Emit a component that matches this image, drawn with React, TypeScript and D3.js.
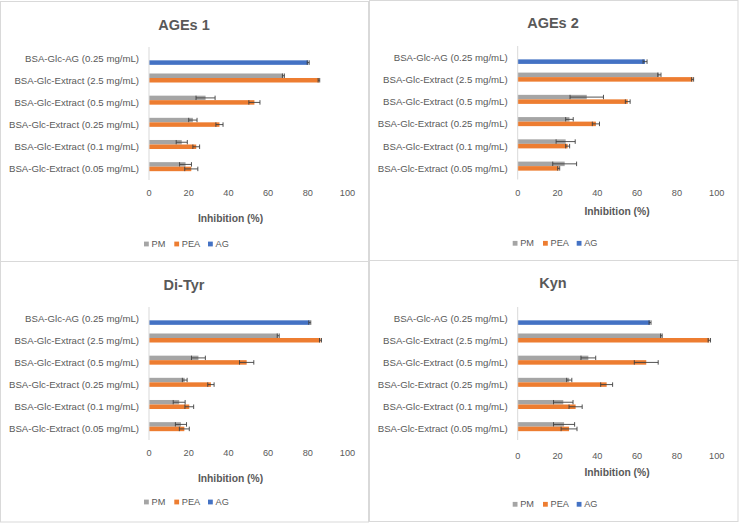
import React from "react";
import * as d3 from "d3";

const categories = [
  "BSA-Glc-AG (0.25 mg/mL)",
  "BSA-Glc-Extract (2.5 mg/mL)",
  "BSA-Glc-Extract (0.5 mg/mL)",
  "BSA-Glc-Extract (0.25 mg/mL)",
  "BSA-Glc-Extract (0.1 mg/mL)",
  "BSA-Glc-Extract (0.05 mg/mL)",
];
const seriesNames = ["PM", "PEA", "AG"];
const seriesColors = ["#A5A5A5", "#ED7D31", "#4472C4"];
const xTicks = [0, 20, 40, 60, 80, 100];
const panelTitles = ["AGEs 1", "AGEs 2", "Di-Tyr", "Kyn"];
const axisTitle = "Inhibition (%)";

// AGEs 1
const ages1PM = [null, 67.7, 28.5, 22.1, 16.5, 18.4];
const ages1PMErr = [0, 0.5, 4.8, 2.1, 2.8, 3.0];
const ages1PEA = [null, 85.6, 53.1, 35.5, 23.8, 21.3];
const ages1PEAErr = [0, 0.4, 2.8, 1.8, 1.7, 3.3];
const ages1AG = [80.2, null, null, null, null, null];
const ages1AGErr = [0.5, 0, 0, 0, 0, 0];

// AGEs 2
const ages2PM = [null, 71.2, 34.7, 26.0, 24.1, 23.6];
const ages2PMErr = [0, 0.8, 8.4, 1.9, 4.8, 6.0];
const ages2PEA = [null, 87.9, 55.3, 39.3, 25.1, 20.6];
const ages2PEAErr = [0, 0.5, 1.2, 1.8, 1.0, 0.5];
const ages2AG = [64.0, null, null, null, null, null];
const ages2AGErr = [1.0, 0, 0, 0, 0, 0];

// Di-Tyr
const dityrPM = [null, 65.1, 24.9, 18.0, 15.2, 16.1];
const dityrPMErr = [0, 0.5, 3.5, 1.2, 3.0, 2.8];
const dityrPEA = [null, 86.4, 49.2, 31.2, 20.3, 17.8];
const dityrPEAErr = [0, 0.5, 3.6, 1.6, 2.2, 2.5];
const dityrAG = [81.0, null, null, null, null, null];
const dityrAGErr = [0.5, 0, 0, 0, 0, 0];

// Kyn
const kynPM = [null, 72.2, 35.5, 25.9, 22.9, 23.3];
const kynPMErr = [0, 0.4, 3.7, 1.3, 4.9, 5.3];
const kynPEA = [null, 96.3, 64.6, 44.7, 29.1, 25.8];
const kynPEAErr = [0, 0.6, 6.0, 3.0, 3.3, 4.0];
const kynAG = [66.5, null, null, null, null, null];
const kynAGErr = [0.5, 0, 0, 0, 0, 0];

const panelData = [
  { values: [ages1PM, ages1PEA, ages1AG], errs: [ages1PMErr, ages1PEAErr, ages1AGErr] },
  { values: [ages2PM, ages2PEA, ages2AG], errs: [ages2PMErr, ages2PEAErr, ages2AGErr] },
  { values: [dityrPM, dityrPEA, dityrAG], errs: [dityrPMErr, dityrPEAErr, dityrAGErr] },
  { values: [kynPM, kynPEA, kynAG], errs: [kynPMErr, kynPEAErr, kynAGErr] },
];

const layouts = [
  { box: [0.5, 1.5, 368, 260], title: [184, 25], px: [149, 347.5], py: [47, 180], tickY: 193, axT: [230.5, 218], leg: [144, 244] },
  { box: [369.5, 0.5, 368.5, 260], title: [553, 23], px: [517.7, 716.7], py: [46, 179.5], tickY: 193, axT: [617, 211.7], leg: [512.7, 243.3] },
  { box: [0.5, 261.5, 368, 260.5], title: [184, 285], px: [149, 347.5], py: [307, 440], tickY: 453, axT: [230.5, 478], leg: [144, 502] },
  { box: [369.5, 260.5, 368.5, 261], title: [553, 283], px: [517.7, 716.7], py: [307, 440], tickY: 455.7, axT: [617, 472.7], leg: [512.7, 504.3] },
];

const FONT = "'Liberation Sans', Arial, sans-serif";
const TEXT = "#595959";

function Panel({ idx }: { idx: number }) {
  const L = layouts[idx];
  const D = panelData[idx];
  const x = d3.scaleLinear().domain([0, 100]).range(L.px);
  const y = d3.scaleBand<string>().domain(categories).range(L.py).paddingInner(0.39).paddingOuter(0.195);
  const inner = d3.scaleBand<string>().domain(seriesNames).range([0, y.bandwidth()]);
  const bh = inner.bandwidth();
  const legendOffsets = [0, 30.3, 64];
  return (
    <g>
      <rect x={L.box[0]} y={L.box[1]} width={L.box[2]} height={L.box[3]} fill="#fff" stroke="#D9D9D9" strokeWidth={1} />
      <text x={L.title[0]} y={L.title[1]} textAnchor="middle" dominantBaseline="central" fontFamily={FONT} fontSize={14.5} fontWeight="bold" fill={TEXT}>
        {panelTitles[idx]}
      </text>
      {categories.map((c) => (
        <text key={c} x={L.px[0] - 10} y={(y(c) as number) + y.bandwidth() / 2} textAnchor="end" dominantBaseline="central" fontFamily={FONT} fontSize={9.65} fill={TEXT}>
          {c}
        </text>
      ))}
      {D.values.map((vals, si) =>
        vals.map((v, ci) => {
          if (v == null) return null;
          const y0 = (y(categories[ci]) as number) + (inner(seriesNames[si]) as number);
          const e = D.errs[si][ci];
          const cy = y0 + bh / 2;
          return (
            <g key={si + "-" + ci}>
              <rect x={x(0)} y={y0} width={x(v) - x(0)} height={bh} fill={seriesColors[si]} />
              <line x1={x(v - e)} x2={x(v + e)} y1={cy} y2={cy} stroke="#404040" strokeWidth={0.9} />
              <line x1={x(v - e)} x2={x(v - e)} y1={cy - bh / 2} y2={cy + bh / 2} stroke="#404040" strokeWidth={0.9} />
              <line x1={x(v + e)} x2={x(v + e)} y1={cy - bh / 2} y2={cy + bh / 2} stroke="#404040" strokeWidth={0.9} />
            </g>
          );
        })
      )}
      <line x1={x(0)} x2={x(0)} y1={L.py[0]} y2={L.py[1]} stroke="#D9D9D9" strokeWidth={1} />
      {xTicks.map((t) => (
        <text key={t} x={x(t)} y={L.tickY} textAnchor="middle" dominantBaseline="central" fontFamily={FONT} fontSize={9.2} fill={TEXT}>
          {t}
        </text>
      ))}
      <text x={L.axT[0]} y={L.axT[1]} textAnchor="middle" dominantBaseline="central" fontFamily={FONT} fontSize={10.3} fontWeight="bold" fill={TEXT}>
        {axisTitle}
      </text>
      {seriesNames.map((s, i) => (
        <g key={s}>
          <rect x={L.leg[0] + legendOffsets[i]} y={L.leg[1] - 2.4} width={4.8} height={4.8} fill={seriesColors[i]} />
          <text x={L.leg[0] + legendOffsets[i] + 7.5} y={L.leg[1]} dominantBaseline="central" fontFamily={FONT} fontSize={9.2} fill={TEXT}>
            {s}
          </text>
        </g>
      ))}
    </g>
  );
}

export default function App() {
  return (
    <svg width={739} height={523} style={{ position: "absolute", left: 0, top: 0, background: "#fff" }}>
      <rect x={0} y={0} width={739} height={523} fill="#fff" />
      {[0, 1, 2, 3].map((i) => (
        <Panel key={i} idx={i} />
      ))}
    </svg>
  );
}
